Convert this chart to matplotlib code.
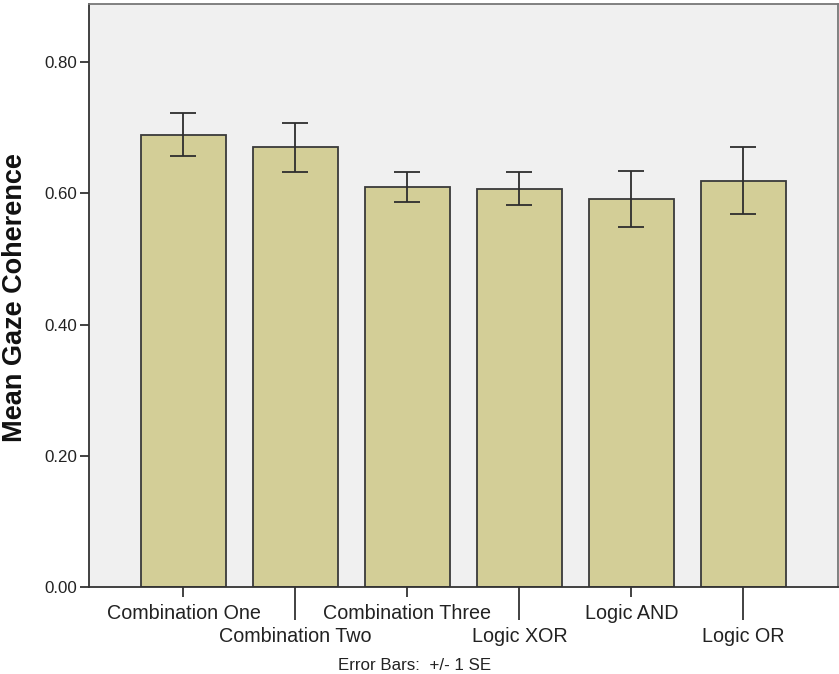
import matplotlib
matplotlib.use("Agg")
import matplotlib.pyplot as plt
import numpy as np

plt.rcParams['font.family'] = ['Liberation Sans', 'DejaVu Sans']

categories = ["Combination One", "Combination Two", "Combination Three",
              "Logic XOR", "Logic AND", "Logic OR"]
mean_coherence = [0.689, 0.670, 0.609, 0.607, 0.591, 0.619]
std_error = [0.033, 0.037, 0.023, 0.025, 0.043, 0.051]
ytick_values = [0.00, 0.20, 0.40, 0.60, 0.80]

W, H = 839, 674
fig = plt.figure(figsize=(W / 100, H / 100), dpi=100)
ax = fig.add_axes([89.3 / W, 1 - 587.3 / H, (838 - 89.3) / W, (587.3 - 4) / H])
ax.set_facecolor("#F0F0F0")

x = np.arange(len(categories))
ax.bar(x, mean_coherence, width=0.754, color="#D3CE97",
       edgecolor="#3A3A3A", linewidth=1.3, zorder=2)
ax.errorbar(x, mean_coherence, yerr=std_error, fmt="none", ecolor="#2E2E2E",
            elinewidth=1.3, capsize=9.7, capthick=1.3, zorder=3)

ax.set_xlim(-0.841, 5.844)
ax.set_ylim(0, 0.888)

# y axis
ax.set_yticks(ytick_values)
ax.set_yticklabels([f"{v:.2f}" for v in ytick_values])
ax.tick_params(axis="y", length=6.5, width=1.3, color="#333333",
               labelsize=12.2, labelcolor="#222222", pad=2)

# x axis: labels staggered over two rows
ax.set_xticks(x[0::2])
ax.set_xticklabels(categories[0::2])
ax.set_xticks(x[1::2], minor=True)
ax.set_xticklabels(categories[1::2], minor=True)
ax.tick_params(axis="x", which="major", length=7.3, width=1.3, color="#333333",
               labelsize=14.2, labelcolor="#222222", pad=4.5)
ax.tick_params(axis="x", which="minor", length=23.8, width=1.3, color="#333333",
               labelsize=14.2, labelcolor="#222222", pad=4.5)

for side in ["left", "bottom"]:
    ax.spines[side].set_color("#333333")
    ax.spines[side].set_linewidth(1.3)
for side in ["top", "right"]:
    ax.spines[side].set_color("#777777")
    ax.spines[side].set_linewidth(1.3)

fig.text(15.5 / W, 1 - 298 / H, "Mean Gaze Coherence", rotation=90,
         ha="center", va="center", fontsize=19.5, fontweight="bold", color="#111111")
fig.text(415 / W, 1 - 665 / H, "Error Bars:  +/- 1 SE", ha="center", va="center",
         fontsize=12.2, color="#222222")

fig.savefig("out.png", dpi=100)
